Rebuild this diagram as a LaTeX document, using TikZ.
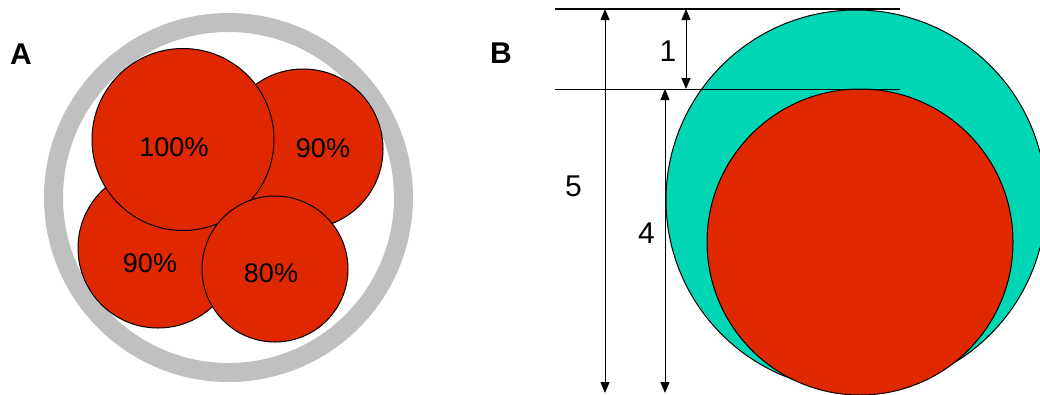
\documentclass[tikz,border=0pt]{standalone}
\usepackage{fontspec}
\setmainfont{Liberation Sans}
\usetikzlibrary{arrows.meta}
\definecolor{cellred}{RGB}{224,40,0}
\definecolor{shell}{RGB}{0,214,180}
\definecolor{ringgray}{RGB}{192,192,192}
\begin{document}
\begin{tikzpicture}[x=1pt,y=-1pt,
  disc/.style={circle, draw=black, line width=1pt, inner sep=0pt, outer sep=0pt, minimum size=#1},
  cell/.style={disc=#1, fill=cellred},
  pct/.style={font=\fontsize{27}{30}\selectfont, inner sep=0pt},
  dimlabel/.style={font=\fontsize{30}{33}\selectfont, inner sep=0pt},
  panel/.style={font=\fontsize{30}{32}\selectfont\bfseries, inner sep=0pt},
  refline/.style={line width=1pt},
  dimarrow/.style={line width=1pt, {Triangle[width=9pt,length=11pt]}-{Triangle[width=9pt,length=11pt]}}
]
\useasboundingbox (0,0) rectangle (1040,394);
% Panel A
\node[circle, draw=ringgray, line width=19pt, minimum size=350pt, inner sep=0pt] (ring) at (228.5,197.5) {};
\node[cell=160pt] (c90r) at (303,149) {};
\node[cell=160pt] (c90l) at (158,248) {};
\node[cell=182pt] (c100) at (183,139.5) {};
\node[cell=146pt] (c80) at (275,269) {};
\node[pct] (l100) at (174,147.5) {100\%};
\node[pct] (l90r) at (323,148) {90\%};
\node[pct] (l90l) at (150,263) {90\%};
\node[pct] (l80) at (271,273) {80\%};
\node[panel] (pA) at (21,54) {A};
% Panel B
\node[disc=380pt, fill=shell] (outer) at (856,200) {};
\node[cell=306pt] (inner) at (860,242) {};
\node[panel] (pB) at (501,53) {B};
\coordinate (t1) at (555,9);
\coordinate (t2) at (900,9);
\coordinate (m1) at (555,89);
\coordinate (m2) at (900,89);
\draw[refline, line width=1.5pt] (t1) -- (t2);
\draw[refline] (m1) -- (m2);
\coordinate (a5t) at (605,9);
\coordinate (a5b) at (605,393);
\coordinate (a1t) at (686,9);
\coordinate (a1b) at (686,89);
\coordinate (a4t) at (665,89);
\coordinate (a4b) at (665,393);
\draw[dimarrow] (a5t) -- (a5b);
\draw[dimarrow] (a1t) -- (a1b);
\draw[dimarrow] (a4t) -- (a4b);
\node[dimlabel] (n1) at (668,51) {1};
\node[dimlabel] (n5) at (573.5,186) {5};
\node[dimlabel] (n4) at (646.5,233.5) {4};
\end{tikzpicture}
\end{document}
